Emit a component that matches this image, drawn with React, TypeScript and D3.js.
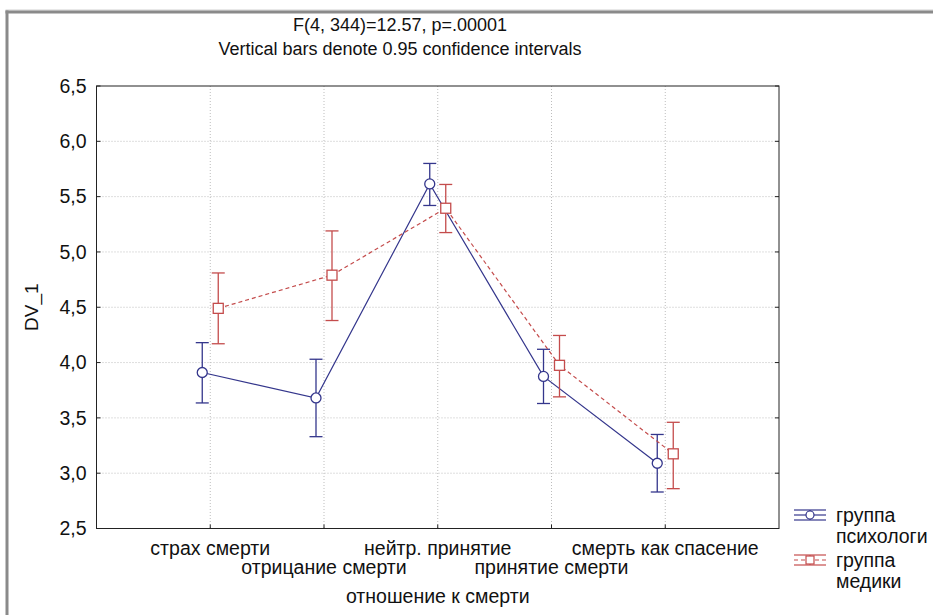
import React from "react";
import * as d3 from "d3";

const categories = ["страх смерти", "отрицание смерти", "нейтр. принятие", "принятие смерти", "смерть как спасение"];
const psychMean = [3.91, 3.68, 5.615, 3.875, 3.09];
const psychLow = [3.635, 3.33, 5.42, 3.63, 2.83];
const psychHigh = [4.18, 4.03, 5.80, 4.12, 3.35];
const medMean = [4.49, 4.79, 5.395, 3.975, 3.175];
const medLow = [4.17, 4.38, 5.175, 3.69, 2.86];
const medHigh = [4.81, 5.19, 5.61, 4.245, 3.46];
const yTicks = [2.5, 3.0, 3.5, 4.0, 4.5, 5.0, 5.5, 6.0, 6.5];
const titleLines = ["F(4, 344)=12.57, p=.00001", "Vertical bars denote 0.95 confidence intervals"];
const legendLabels = [["группа", "психологи"], ["группа", "медики"]];
const xTitle = "отношение к смерти";
const yTitle = "DV_1";

const W = 933, H = 615;
const L = 96.5, R = 779, T = 86, B = 528.5;
const BLUE = "#34368c";
const RED = "#c44c4c";
const FONT = "'Liberation Sans', Arial, sans-serif";

export default function App() {
  const x = d3.scaleLinear().domain([0, categories.length + 1]).range([L, R]);
  const y = d3.scaleLinear().domain([2.5, 6.5]).range([B, T]);
  const off = 8;
  const fmt = (v: number) => d3.format(".1f")(v).replace(".", ",");
  const line = d3.line<number>().x((_, i) => x(i + 1)).y((d) => y(d));
  const series = [
    { mean: psychMean, lo: psychLow, hi: psychHigh, color: BLUE, dx: -off, dash: undefined, marker: "circle" },
    { mean: medMean, lo: medLow, hi: medHigh, color: RED, dx: off, dash: "4,3", marker: "square" },
  ];
  const cap = 6.5;
  return (
    <svg width={W} height={H} style={{ position: "absolute", left: 0, top: 0, background: "#fff" }} fontFamily={FONT}>
      <rect x={0} y={0} width={W} height={H} fill="#fff" />
      {/* outer frame */}
      <line x1={5.5} x2={W} y1={10} y2={10} stroke="#d0d0d0" strokeWidth={1} />
      <line x1={5.5} x2={W} y1={12} y2={12} stroke="#8a8a8a" strokeWidth={3} />
      <line x1={7} x2={7} y1={10.5} y2={H} stroke="#8a8a8a" strokeWidth={3} />
      {/* title */}
      {titleLines.map((t, i) => (
        <text key={i} x={400} y={31 + i * 24} textAnchor="middle" fontSize={18} fill="#111">{t}</text>
      ))}
      {/* grid */}
      {yTicks.slice(1, -1).map((v) => (
        <line key={"gy" + v} x1={L} x2={R} y1={y(v)} y2={y(v)} stroke="#bdbdbd" strokeDasharray="1,2" />
      ))}
      {categories.map((c, i) => (
        <line key={"gx" + i} x1={x(i + 1)} x2={x(i + 1)} y1={T} y2={B} stroke="#bdbdbd" strokeDasharray="1,2" />
      ))}
      {/* plot border */}
      <rect x={L} y={T} width={R - L} height={B - T} fill="none" stroke="#222" strokeWidth={1} />
      {/* ticks */}
      {yTicks.map((v) => (
        <g key={"ty" + v}>
          <line x1={L} x2={L + 4} y1={y(v)} y2={y(v)} stroke="#222" />
          <line x1={R} x2={R - 4} y1={y(v)} y2={y(v)} stroke="#222" />
          <text x={L - 10} y={y(v)} dy="0.35em" textAnchor="end" fontSize={19.5} fill="#111">{fmt(v)}</text>
        </g>
      ))}
      {categories.map((c, i) => (
        <g key={"tx" + i}>
          <line x1={x(i + 1)} x2={x(i + 1)} y1={B} y2={B - 4} stroke="#222" />
          <text x={x(i + 1)} y={i % 2 === 0 ? 555 : 574} textAnchor="middle" fontSize={19.5} fill="#111">{c}</text>
        </g>
      ))}
      <text x={(L + R) / 2} y={603} textAnchor="middle" fontSize={19.5} fill="#111">{xTitle}</text>
      <text transform={`translate(38,${(T + B) / 2}) rotate(-90)`} textAnchor="middle" fontSize={19} fill="#111">{yTitle}</text>
      {/* series */}
      {series.map((s, si) => (
        <g key={"s" + si}>
          <path d={line(s.mean) || ""} transform={`translate(${s.dx},0)`} fill="none" stroke={s.color} strokeWidth={1.2} strokeDasharray={s.dash} />
          {s.mean.map((m, i) => {
            const cx = x(i + 1) + s.dx;
            return (
              <g key={i}>
                <line x1={cx} x2={cx} y1={y(s.lo[i])} y2={y(s.hi[i])} stroke={s.color} strokeWidth={1.3} />
                <line x1={cx - cap} x2={cx + cap} y1={y(s.lo[i])} y2={y(s.lo[i])} stroke={s.color} strokeWidth={1.3} />
                <line x1={cx - cap} x2={cx + cap} y1={y(s.hi[i])} y2={y(s.hi[i])} stroke={s.color} strokeWidth={1.3} />
                {s.marker === "circle" ? (
                  <circle cx={cx} cy={y(m)} r={5} fill="#fff" stroke={s.color} strokeWidth={1.3} />
                ) : (
                  <rect x={cx - 5} y={y(m) - 5} width={10} height={10} fill="#fff" stroke={s.color} strokeWidth={1.3} />
                )}
              </g>
            );
          })}
        </g>
      ))}
      {/* legend */}
      {series.map((s, si) => {
        const ly = 515 + si * 45;
        const lx0 = 794, lx1 = 826, mx = 810;
        return (
          <g key={"lg" + si}>
            <line x1={lx0} x2={lx1} y1={ly - 5} y2={ly - 5} stroke={s.color} strokeWidth={1.2} />
            <line x1={lx0} x2={lx1} y1={ly + 5} y2={ly + 5} stroke={s.color} strokeWidth={1.2} />
            <line x1={lx0} x2={lx1} y1={ly} y2={ly} stroke={s.color} strokeWidth={1.2} strokeDasharray={s.dash} />
            <line x1={mx} x2={mx} y1={ly - 5} y2={ly + 5} stroke={s.color} strokeWidth={1.2} />
            {s.marker === "circle" ? (
              <circle cx={mx} cy={ly} r={4} fill="#fff" stroke={s.color} strokeWidth={1.2} />
            ) : (
              <rect x={mx - 4} y={ly - 4} width={8} height={8} fill="#fff" stroke={s.color} strokeWidth={1.2} />
            )}
            {legendLabels[si].map((t, k) => (
              <text key={k} x={836} y={ly + k * 21} dy="0.35em" fontSize={19.5} fill="#111">{t}</text>
            ))}
          </g>
        );
      })}
    </svg>
  );
}
